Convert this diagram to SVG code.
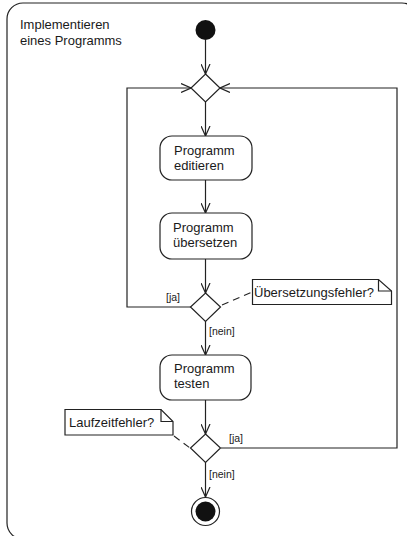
<svg xmlns="http://www.w3.org/2000/svg" width="407" height="536" viewBox="0 0 407 536">
<defs>
<style>
.ln{fill:none;stroke:#222;stroke-width:1.2}
.bx{fill:#fff;stroke:#222;stroke-width:1.2}
.dash{fill:none;stroke:#222;stroke-width:1.1;stroke-dasharray:7,5}
.t{font-family:"Liberation Sans",Arial,sans-serif;font-size:13px;fill:#1a1a1a}
.s{font-family:"Liberation Sans",Arial,sans-serif;font-size:10.5px;fill:#1a1a1a}
</style>
<marker id="arr" viewBox="0 0 10 10" refX="10" refY="5" markerWidth="10" markerHeight="10" markerUnits="userSpaceOnUse" orient="auto">
<path d="M0,0.5 L10,5 L0,9.5" fill="none" stroke="#222" stroke-width="1.2"/>
</marker>
</defs>
<rect width="407" height="536" fill="#fff"/>
<g id="frame">
<rect x="7" y="3" width="411" height="536" rx="16" ry="16" class="ln"/>
<text class="t" x="20" y="29">Implementieren</text>
<text class="t" x="20" y="45">eines Programms</text>
</g>
<g id="connectors">
<line x1="205.5" y1="40" x2="205.5" y2="74" class="ln" marker-end="url(#arr)"/>
<polyline points="191,307 127,307 127,88 191,88" class="ln" marker-end="url(#arr)"/>
<polyline points="221,448 397,448 397,88 220,88" class="ln" marker-end="url(#arr)"/>
<line x1="205.5" y1="102" x2="205.5" y2="136" class="ln" marker-end="url(#arr)"/>
<line x1="205.5" y1="180" x2="205.5" y2="213" class="ln" marker-end="url(#arr)"/>
<line x1="205.5" y1="259" x2="205.5" y2="293" class="ln" marker-end="url(#arr)"/>
<line x1="205.5" y1="321" x2="205.5" y2="355" class="ln" marker-end="url(#arr)"/>
<line x1="205.5" y1="400" x2="205.5" y2="434" class="ln" marker-end="url(#arr)"/>
<line x1="205.5" y1="462" x2="205.5" y2="497" class="ln" marker-end="url(#arr)"/>
<line x1="222" y1="305" x2="252" y2="292" class="dash"/>
<line x1="174" y1="436" x2="190" y2="448" class="dash"/>
<text class="s" x="166" y="301">[ja]</text>
<text class="s" x="209" y="335">[nein]</text>
<text class="s" x="229" y="442">[ja]</text>
<text class="s" x="209" y="478">[nein]</text>
</g>
<g id="start">
<circle cx="205.5" cy="30" r="10" fill="#111"/>
</g>
<g id="merge">
<polygon points="205.5,74 220,88 205.5,102 191,88" class="bx"/>
</g>
<g id="editieren">
<rect x="160" y="136" width="92" height="44" rx="12" class="bx"/>
<text class="t" x="174" y="155">Programm</text>
<text class="t" x="174" y="170">editieren</text>
</g>
<g id="uebersetzen">
<rect x="160" y="213" width="92" height="46" rx="12" class="bx"/>
<text class="t" x="173" y="232">Programm</text>
<text class="t" x="173" y="247">übersetzen</text>
</g>
<g id="decision1">
<polygon points="205.5,293 220.5,307 205.5,321.5 190.5,307" class="bx"/>
</g>
<g id="note1">
<path d="M252.5,279.5 H378.5 L391.5,291 V304.5 H252.5 Z" class="bx"/>
<path d="M378.5,279.5 V291 H391.5" class="ln"/>
<text class="t" x="254" y="297">Übersetzungsfehler?</text>
</g>
<g id="testen">
<rect x="160" y="355" width="91" height="45" rx="12" class="bx"/>
<text class="t" x="174" y="373">Programm</text>
<text class="t" x="174" y="388">testen</text>
</g>
<g id="decision2">
<polygon points="205.5,434 220.5,448 205.5,462.5 190.5,448" class="bx"/>
</g>
<g id="note2">
<path d="M65,409.5 H161 L173,421.5 V435 H65 Z" class="bx"/>
<path d="M161,409.5 V421.5 H173" class="ln"/>
<text class="t" x="69" y="427">Laufzeitfehler?</text>
</g>
<g id="end">
<circle cx="205.5" cy="511.5" r="14" class="bx"/>
<circle cx="205.5" cy="511.5" r="10" fill="#111"/>
</g>
</svg>
